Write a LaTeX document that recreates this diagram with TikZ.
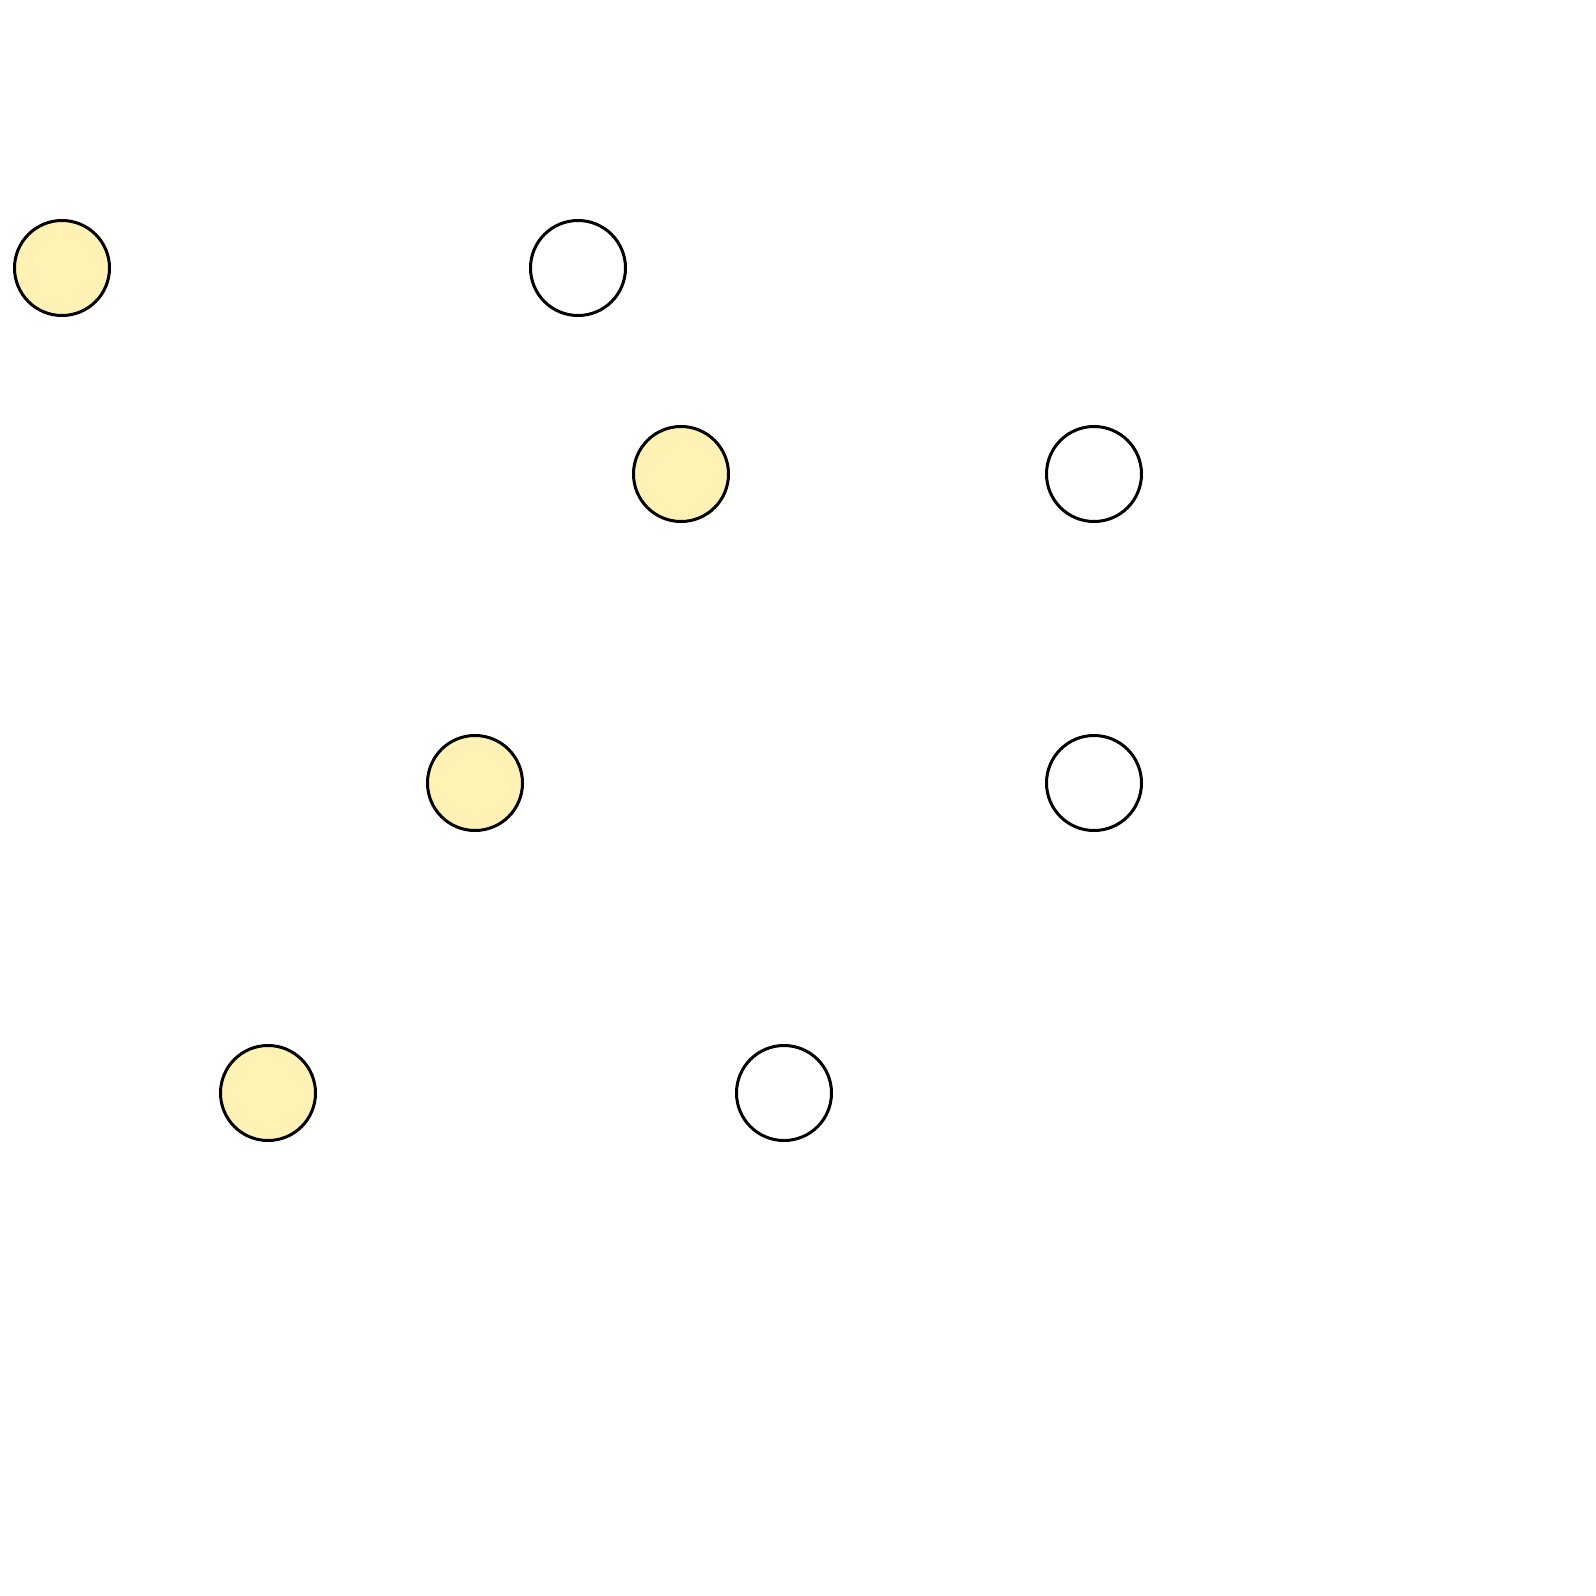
\documentclass[tikz,border=0pt]{standalone}
\definecolor{paleyellow}{RGB}{255,242,180}
\begin{document}
\begin{tikzpicture}[x=1pt,y=-1pt,
  yel/.style={circle,draw=black,line width=3pt,fill=paleyellow,minimum size=95pt,inner sep=0pt},
  wht/.style={circle,draw=black,line width=3pt,fill=white,minimum size=95pt,inner sep=0pt}]
\useasboundingbox (0,0) rectangle (1596,1596);
\node[yel] (a) at (62,268) {};
\node[wht] (b) at (578,268) {};
\node[yel] (c) at (681,474) {};
\node[wht] (d) at (1094,474) {};
\node[yel] (e) at (475,783) {};
\node[wht] (f) at (1094,783) {};
\node[yel] (g) at (268,1093) {};
\node[wht] (h) at (784,1093) {};
\end{tikzpicture}
\end{document}
